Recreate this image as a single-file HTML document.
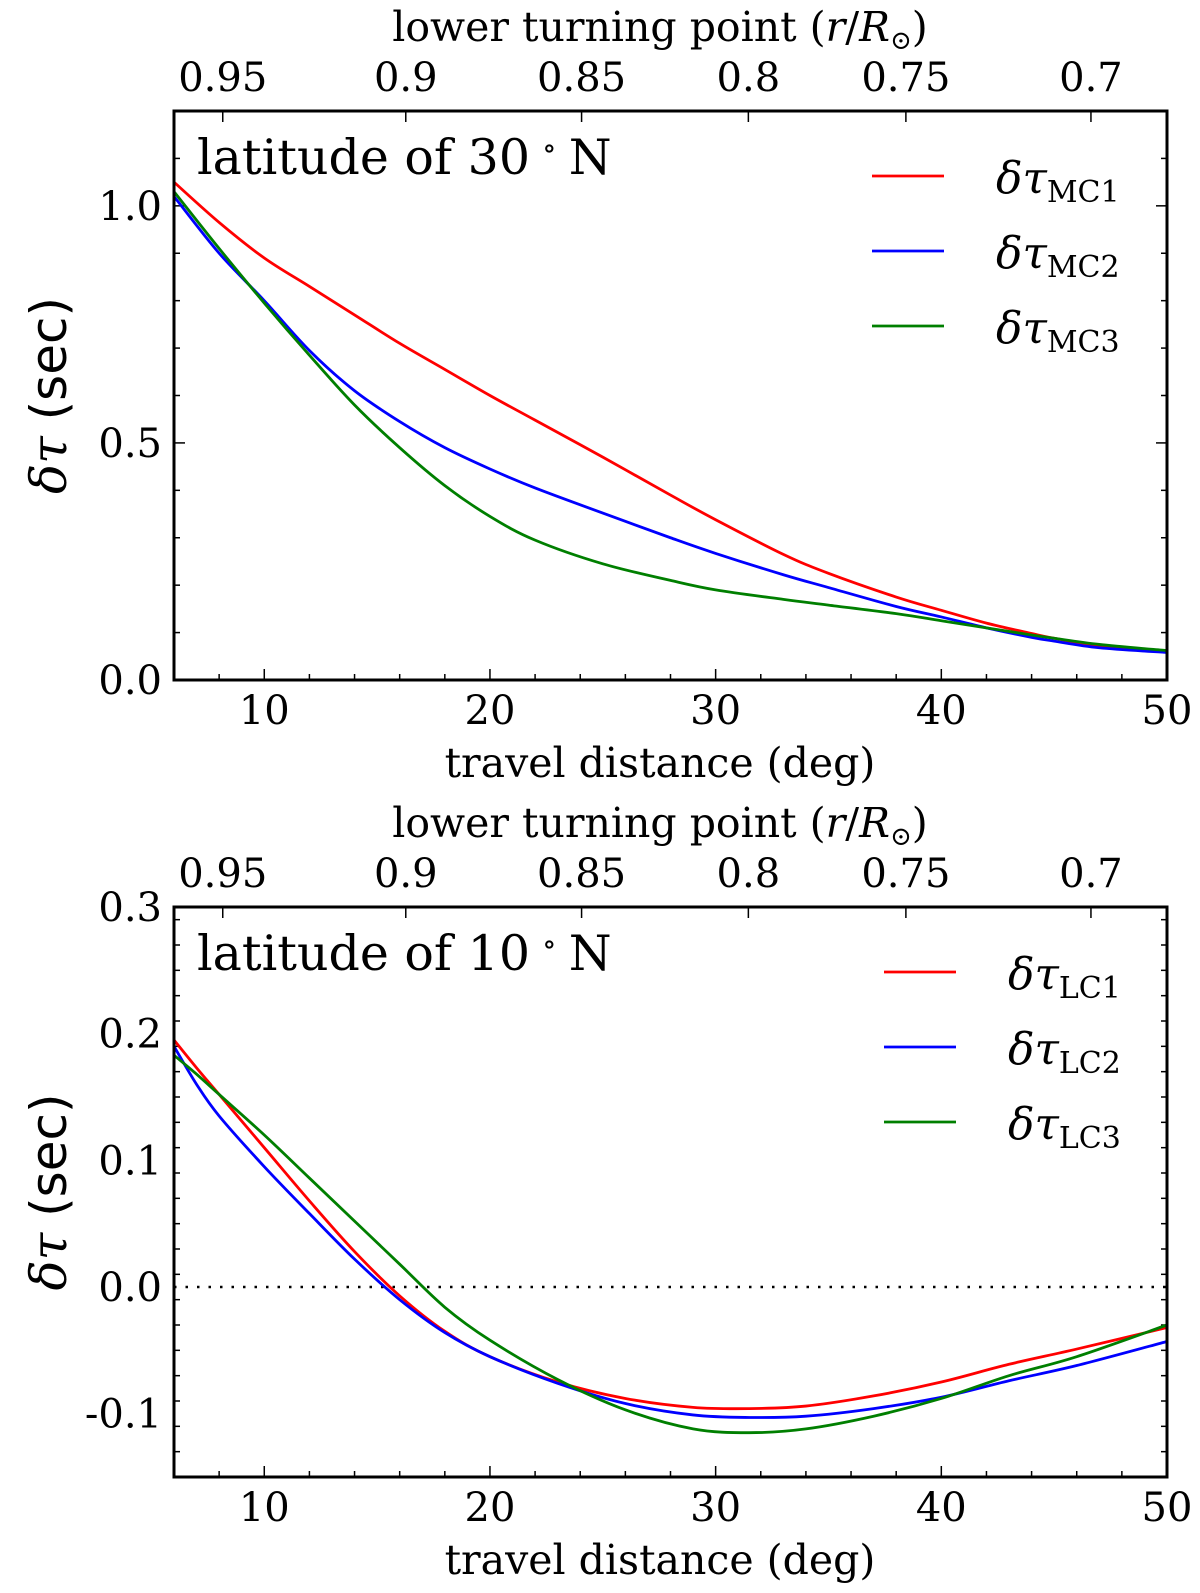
<!DOCTYPE html>
<html><head><meta charset="utf-8"><style>
body{margin:0;background:#fff}
svg{display:block}
text{font-family:"DejaVu Serif","Liberation Serif",serif;fill:#000}
</style></head><body>
<svg id="fig" width="1200" height="1593" viewBox="0 0 1200 1593"></svg>
<script>
const xs1=[6,8,10,12,14,16,18,20,22,25,28,30,33,35,38,40,42,44,45,47,50];
const mc1=[1.05,0.965,0.89,0.83,0.77,0.71,0.655,0.60,0.548,0.47,0.39,0.338,0.265,0.225,0.175,0.147,0.12,0.098,0.088,0.072,0.06];
const mc2=[1.02,0.90,0.80,0.695,0.61,0.545,0.49,0.445,0.405,0.352,0.30,0.267,0.222,0.195,0.155,0.133,0.11,0.09,0.082,0.068,0.058];
const mc3=[1.03,0.91,0.795,0.685,0.58,0.49,0.41,0.345,0.295,0.245,0.21,0.19,0.17,0.158,0.14,0.125,0.11,0.095,0.088,0.075,0.062];
const xs2=[6,7,8,10,12,14,16,18,20,23,26,29,31.5,34,37,40,43,46,50];
const lc1=[0.195,0.173,0.152,0.11,0.068,0.028,-0.007,-0.035,-0.055,-0.075,-0.088,-0.095,-0.096,-0.094,-0.086,-0.075,-0.061,-0.049,-0.032];
const lc2=[0.19,0.16,0.135,0.095,0.058,0.022,-0.010,-0.036,-0.055,-0.076,-0.092,-0.101,-0.103,-0.102,-0.096,-0.087,-0.074,-0.062,-0.043];
const lc3=[0.183,0.168,0.152,0.12,0.086,0.052,0.018,-0.016,-0.042,-0.073,-0.097,-0.112,-0.115,-0.112,-0.102,-0.088,-0.07,-0.055,-0.030];
const topTickLabels=["0.95","0.9","0.85","0.8","0.75","0.7"];
const topTickDist=[8.16,16.27,24.06,31.45,38.43,46.63];
const xTicks=[10,20,30,40,50];
const yTicksA=["0.0","0.5","1.0"];
const yTicksB=["-0.1","0.0","0.1","0.2","0.3"];

const NS="http://www.w3.org/2000/svg";
const svg=document.getElementById('fig');
function el(tag,attrs,parent){const e=document.createElementNS(NS,tag);for(const k in attrs)e.setAttribute(k,attrs[k]);(parent||svg).appendChild(e);return e;}
function txt(s,x,y,size,anchor,parent,name){const t=el('text',{x:x,y:y,'font-size':size,'text-anchor':anchor||'middle'},parent);t.textContent=s;


return t;}
function spline(pts){
  let d='M'+pts[0][0]+','+pts[0][1];
  for(let i=0;i<pts.length-1;i++){
    const p0=pts[Math.max(i-1,0)],p1=pts[i],p2=pts[i+1],p3=pts[Math.min(i+2,pts.length-1)];
    const c1x=p1[0]+(p2[0]-p0[0])/6,c1y=p1[1]+(p2[1]-p0[1])/6;
    const c2x=p2[0]-(p3[0]-p1[0])/6,c2y=p2[1]-(p3[1]-p1[1])/6;
    d+=` C${c1x},${c1y} ${c2x},${c2y} ${p2[0]},${p2[1]}`;
  }
  return d;
}

function panel(cfg){
  const g=el('g',{});
  
  
  const L=174,R=1167,T=cfg.top,B=cfg.bottom;
  const X=v=>L+(v-6)/(50-6)*(R-L);
  const Y=v=>B-(v-cfg.ymin)/(cfg.ymax-cfg.ymin)*(B-T);
  for(let v=6;v<=50;v+=2){const major=v%10===0;const len=major?11:6;
    el('line',{x1:X(v),x2:X(v),y1:B,y2:B-len,stroke:'#000','stroke-width':1.5},g);}
  xTicks.forEach(v=>txt(String(v),X(v),B+44,40,'middle',g,'x-tick-label'));
  topTickDist.forEach((d,i)=>{el('line',{x1:X(d),x2:X(d),y1:T,y2:T+11,stroke:'#000','stroke-width':1.5},g);
    txt(topTickLabels[i],X(d),T-20,40,'middle',g,'top-tick-label');});
  const n=Math.round((cfg.ymax-cfg.ymin)/cfg.minor);
  for(let i=0;i<=n;i++){const v=cfg.ymin+i*cfg.minor;const r=Math.abs(v/cfg.major-Math.round(v/cfg.major))<1e-6;const len=r?11:6;
    el('line',{x1:L,x2:L+len,y1:Y(v),y2:Y(v),stroke:'#000','stroke-width':1.5},g);
    el('line',{x1:R,x2:R-len,y1:Y(v),y2:Y(v),stroke:'#000','stroke-width':1.5},g);}
  cfg.yLabels.forEach(s=>txt(s,L-12,Y(parseFloat(s))+14,40,'end',g,'y-tick-label'));
  if(cfg.zero){const z=el('line',{x1:L,x2:R,y1:Y(0),y2:Y(0),stroke:'#000','stroke-width':2.5,'stroke-dasharray':'2.5,9'},g);
    
    }
  cfg.series.forEach(s=>{
    const p=el('path',{d:spline(s.ys.map((v,i)=>[X(cfg.xs[i]),Y(v)])),fill:'none',stroke:s.color,'stroke-width':2.8,'stroke-linejoin':'round'},g);
    
    
  });
  const f=el('rect',{x:L,y:T,width:R-L,height:B-T,fill:'none',stroke:'#000','stroke-width':3},g);
  
  
  const tl=el('text',{x:197,y:T+63,'font-size':49,'text-anchor':'start'},g);
  
  
  tl.innerHTML=cfg.title+'<tspan font-size="30" dx="12" dy="-16">∘</tspan><tspan dx="12" dy="16">N</tspan>';
  cfg.series.forEach((s,i)=>{const y=cfg.legY+i*75;
    const l=el('line',{x1:cfg.legX,x2:cfg.legX+72,y1:y,y2:y,stroke:s.color,'stroke-width':2.8},g);
    
    
    const t=el('text',{x:cfg.legX+124,y:y+17,'font-size':44,'text-anchor':'start'},g);
    
    
    const a=el('tspan',{'font-style':'italic'},t);a.textContent='δτ';
    const b=el('tspan',{'font-size':30,dy:9},t);b.textContent=s.label;
  });
  txt('travel distance (deg)',660,B+97,41,'middle',g,'x-axis-title');
  const tt=el('text',{x:660,y:T-70,'font-size':41,'text-anchor':'middle'},g);
  
  
  tt.innerHTML='lower turning point (<tspan font-style="italic">r</tspan>/<tspan font-style="italic">R</tspan><tspan font-size="26" dy="8">⊙</tspan><tspan dy="-8">)</tspan>';
  const yl=el('text',{x:0,y:0,'font-size':50,'text-anchor':'middle',transform:`translate(66,${(T+B)/2}) rotate(-90)`},g);
  
  
  yl.innerHTML='<tspan font-style="italic">δτ</tspan><tspan font-family="DejaVu Sans,sans-serif"> (sec)</tspan>';
}
panel({name:'panel-30n',top:111,bottom:680,ymin:0,ymax:1.2,minor:0.1,major:0.5,yLabels:yTicksA,xs:xs1,
  title:'latitude of 30',legX:872,legY:176,
  series:[{ys:mc1,color:'#ff0000',label:'MC1',name:'line-mc1'},{ys:mc2,color:'#0000ff',label:'MC2',name:'line-mc2'},{ys:mc3,color:'#007f00',label:'MC3',name:'line-mc3'}]});
panel({name:'panel-10n',top:907,bottom:1477,ymin:-0.15,ymax:0.3,minor:0.02,major:0.1,yLabels:yTicksB,xs:xs2,zero:true,
  title:'latitude of 10',legX:884,legY:972,
  series:[{ys:lc1,color:'#ff0000',label:'LC1',name:'line-lc1'},{ys:lc2,color:'#0000ff',label:'LC2',name:'line-lc2'},{ys:lc3,color:'#007f00',label:'LC3',name:'line-lc3'}]});
</script>
</body></html>
